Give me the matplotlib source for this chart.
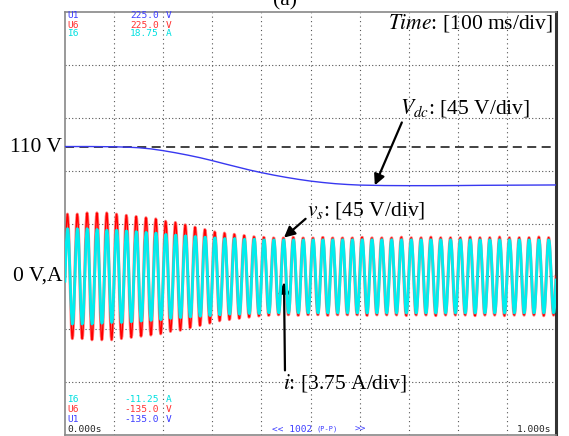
import matplotlib
matplotlib.use("Agg")
import matplotlib.pyplot as plt
import numpy as np

plt.rcParams['font.family'] = ['Liberation Serif', 'DejaVu Serif']
plt.rcParams['mathtext.fontset'] = 'stix'

# time base of the scope: 1 s across 10 div, 50 Hz supply, 1002 samples
f_grid = 50
n_cycles = 50
n_pts = 1002

# peak of the supply voltage v_s for each cycle (V)
vs_peak = np.array([53, 53, 54, 54, 54, 53, 52, 51, 50, 49,
                    47, 46, 44, 42, 40, 38, 37, 36, 35, 34,
                    33.5, 33, 33, 33.5, 33, 33, 33.5, 33, 33, 33,
                    33.5, 33, 33, 33, 33.5, 33, 33, 33.5, 33, 33,
                    33, 33.5, 33, 33, 33.5, 33, 33, 33, 33.5, 33])
# peak of the line current i for each cycle (A)
i_peak = np.array([3.4, 3.4, 3.4, 3.35, 3.3, 3.3, 3.25, 3.2, 3.15, 3.1,
                   3.0, 2.95, 2.9, 2.85, 2.8, 2.75, 2.7, 2.7, 2.65, 2.65,
                   2.6, 2.6, 2.6, 2.6, 2.6, 2.6, 2.6, 2.6, 2.6, 2.6,
                   2.6, 2.6, 2.6, 2.6, 2.6, 2.6, 2.6, 2.6, 2.6, 2.6,
                   2.6, 2.6, 2.6, 2.6, 2.6, 2.6, 2.6, 2.6, 2.6, 2.6])
# dc-link voltage (V)
t_dc = [0, 0.05, 0.1, 0.125, 0.15, 0.175, 0.2, 0.225, 0.25, 0.275, 0.3,
        0.325, 0.35, 0.375, 0.4, 0.425, 0.45, 0.475, 0.5, 0.525, 0.55,
        0.575, 0.6, 0.65, 0.7, 0.75, 0.8, 0.85, 0.9, 0.95, 1.0]
v_dc = [110.5, 110.5, 110.3, 110.0, 109.5, 108.5, 107.0, 105.2, 103.2, 101.0, 98.5,
        95.8, 93.2, 90.6, 88.3, 86.2, 84.3, 82.6, 81.1, 79.9, 78.9,
        78.2, 77.7, 77.3, 77.2, 77.2, 77.3, 77.5, 77.6, 77.7, 77.8]

v_ref = 110
v_div = 45.0   # V/div
i_div = 3.75   # A/div

t = np.linspace(0, 1, n_pts)
k = np.minimum((t * f_grid).astype(int), n_cycles - 1)
vs = vs_peak[k] * np.sin(2 * np.pi * f_grid * t)
i_s = i_peak[k] * np.sin(2 * np.pi * f_grid * t - 0.1) * v_div / i_div

W, H = 569, 436
fig = plt.figure(figsize=(W / 100, H / 100), dpi=100)
ax = fig.add_axes([65 / W, 1 / H, 491 / W, 423 / H])
ax.set_xlim(0, 1)
ax.set_ylim(-135, 225)

# scope graticule
for x in np.arange(0.1, 1.0, 0.1):
    ax.axvline(x, color='#555555', lw=0.8, ls=(0, (1, 3)), zorder=0)
for y in np.arange(-90, 225, 45):
    ax.axhline(y, color='#555555', lw=0.8, ls=(0, (1, 2)), zorder=0)
ax.set_xticks([])
ax.set_yticks([])
for s in ['left', 'top', 'bottom']:
    ax.spines[s].set_color('#888888')
    ax.spines[s].set_linewidth(1.2)
ax.spines['right'].set_color('#333333')
ax.spines['right'].set_linewidth(2.2)

ax.axhline(v_ref, color='#333333', lw=1.3, ls=(0, (5, 3)), zorder=1)

ax.plot(t, vs, color='#ff8080', lw=2.2, zorder=2)
ax.plot(t, vs, color='#ff0000', lw=1.0, zorder=3)
ax.plot(t, i_s, color='#00eeee', lw=2.0, zorder=4)
ax.plot(t_dc, v_dc, color='#3838f0', lw=1.0, zorder=5)

fs = 15.5
ax.text(-0.006, v_ref, '110 V', ha='right', va='center', fontsize=fs, clip_on=False)
ax.text(-0.006, 0, '0 V,A', ha='right', va='center', fontsize=fs, clip_on=False)

ax.text(0.994, 211, r'$\mathit{Time}$: [100 ms/div]', ha='right', va='baseline', fontsize=fs)
ax.text(0.682, 139, r'$\mathit{V}_{\mathit{dc}}$: [45 V/div]', ha='left', va='baseline', fontsize=fs)
ax.text(0.493, 52, r'$\mathit{v}_{\mathit{s}}$: [45 V/div]', ha='left', va='baseline', fontsize=fs)
ax.text(0.444, -95, r'$\mathit{i}$: [3.75 A/div]', ha='left', va='baseline', fontsize=fs)

arrow = dict(arrowstyle='-|>', color='black', lw=1.6, mutation_scale=16, shrinkA=0, shrinkB=0)
ax.annotate('', xy=(0.631, 77.5), xytext=(0.686, 131), arrowprops=arrow)
ax.annotate('', xy=(0.446, 33), xytext=(0.490, 49), arrowprops=arrow)
ax.annotate('', xy=(0.446, -5), xytext=(0.448, -80), arrowprops=arrow)

fig.text(285 / W, 1 - 5 / H, '(a)', ha='center', va='baseline', fontsize=fs)

# scope readouts
mono = dict(family='DejaVu Sans Mono', fontsize=6.8, va='center')
blue, red, cyan = '#3c3cff', '#ff3030', '#00e0e0'
top_rows = [('U1', '225.0', 'V', blue), ('U6', '225.0', 'V', red), ('I6', '18.75', 'A', cyan)]
bot_rows = [('I6', '-11.25', 'A', cyan), ('U6', '-135.0', 'V', red), ('U1', '-135.0', 'V', blue)]
for (name, val, unit, c), py in zip(top_rows, [16, 25, 34]):
    fig.text(67 / W, 1 - py / H, name, color=c, ha='left', **mono)
    fig.text(159 / W, 1 - py / H, val, color=c, ha='right', **mono)
    fig.text(166 / W, 1 - py / H, unit, color=c, ha='left', **mono)
for (name, val, unit, c), py in zip(bot_rows, [399, 409, 419]):
    fig.text(67 / W, 1 - py / H, name, color=c, ha='left', **mono)
    fig.text(159 / W, 1 - py / H, val, color=c, ha='right', **mono)
    fig.text(166 / W, 1 - py / H, unit, color=c, ha='left', **mono)
fig.text(67 / W, 1 - 429 / H, '0.000s', color='#222222', ha='left', **mono)
fig.text(551 / W, 1 - 429 / H, '1.000s', color='#222222', ha='right', **mono)
fig.text(272 / W, 1 - 429 / H, '<< 1002', color=blue, ha='left', **mono)
fig.text(316 / W, 1 - 429 / H, '(P-P)', color=blue, ha='left', family='DejaVu Sans Mono',
         fontsize=5, va='center')
fig.text(355 / W, 1 - 429 / H, '>>', color=blue, ha='left', **mono)

fig.savefig('out.png', dpi=100)
